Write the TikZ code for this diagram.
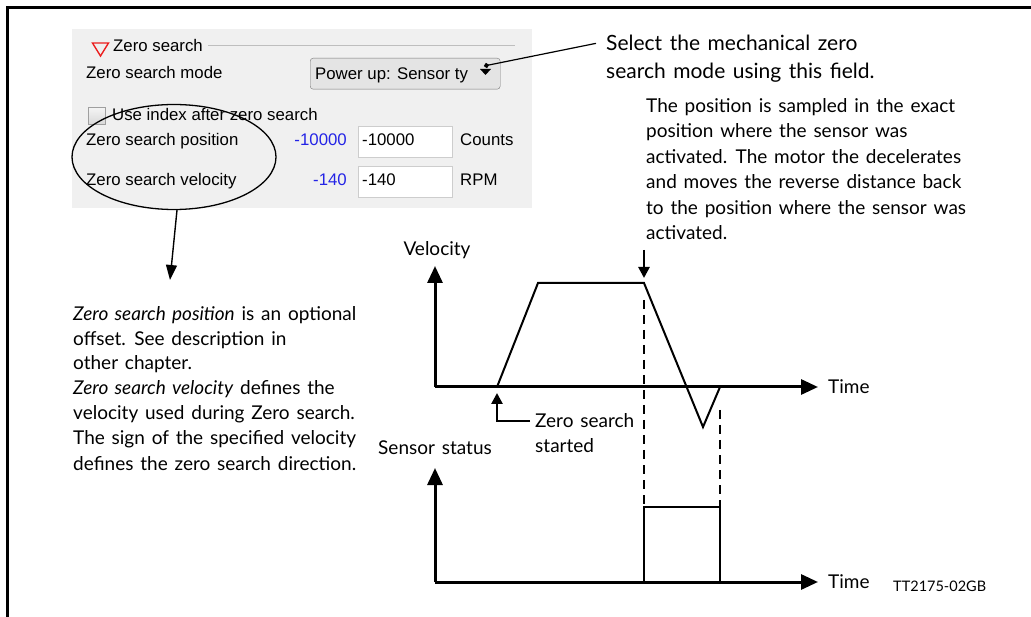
\documentclass[tikz,border=0pt]{standalone}
\usepackage{fontspec}
\setmainfont{Lato}[WordSpace=1.4]
\newfontfamily\uifont{Liberation Sans}
\usetikzlibrary{arrows.meta,shapes.geometric}
\definecolor{panel}{RGB}{240,240,240}
\definecolor{uiblue}{RGB}{35,35,230}
\definecolor{boxline}{RGB}{205,205,205}
\definecolor{grpline}{RGB}{190,190,190}
\definecolor{ddfill}{RGB}{228,228,228}
\definecolor{ddline}{RGB}{120,120,120}
\definecolor{uired}{RGB}{235,30,30}
\begin{document}
\begin{tikzpicture}[x=1pt,y=-1pt,
  ui/.style={font=\uifont\fontsize{16.8}{19}\selectfont, inner sep=0pt, anchor=base west},
  body/.style={font=\fontsize{19}{25}\selectfont, inner sep=0pt, anchor=base west},
  big/.style={font=\fontsize{21}{24}\selectfont, inner sep=0pt, anchor=base west},
  lbl/.style={font=\fontsize{19}{22}\selectfont, inner sep=0pt},
  axisline/.style={line width=3pt, -{Triangle[length=17pt,width=15pt]}},
  curve/.style={line width=2pt, line join=miter},
  sensline/.style={line width=2pt, dash pattern=on 9pt off 6pt},
  thinarrow/.style={line width=1.4pt, -{Triangle[length=15pt,width=11pt]}},
  markarrow/.style={line width=2.6pt, -{Triangle[length=11pt,width=11pt]}},
  field/.style={draw=boxline, fill=white, minimum width=94pt, minimum height=31pt, anchor=north west, inner sep=0pt}
]
\path[use as bounding box] (0,0) rectangle (1031,617);
% frame
\draw[line width=3pt, line join=miter] (1031,7.5) -- (7.5,7.5) -- (7.5,617);

% GUI panel
\fill[panel] (72,29) rectangle (532,208);
\draw[uired, line width=1.4pt, line join=miter] (92.5,43) -- (108.5,43) -- (100.5,56) -- cycle;
\node[ui] (grp) at (113,52) {Zero search};
\draw[grpline, line width=1pt] (208,46) -- (515,46);
\node[ui] (mode) at (86,79) {Zero search mode};
\node[draw=ddline, fill=ddfill, rounded corners=3pt, minimum width=190pt, minimum height=31pt, anchor=north west, inner sep=0pt] (dd) at (310,58) {};
\node[ui] (ddtext) at (315,80) {Power up: Sensor ty};
\fill (480,69) -- (491,69) -- (485.5,75) -- cycle;
\node[draw=gray!75, top color=gray!8, bottom color=gray!30, minimum size=17pt, anchor=north west, inner sep=0pt] (cb) at (88,107) {};
\node[ui] (cbtext) at (112,121) {Use index after zero search};
\node[ui] (pos) at (86,146) {Zero search position};
\node[ui, anchor=base east, text=uiblue] (posval) at (347,146) {-10000};
\node[field] (posbox) at (358,126) {};
\node[ui] (posin) at (362,146) {-10000};
\node[ui] (posunit) at (460,146) {Counts};
\node[ui] (vel) at (86,186) {Zero search velocity};
\node[ui, anchor=base east, text=uiblue] (velval) at (347,186) {-140};
\node[field] (velbox) at (358,166) {};
\node[ui] (velin) at (362,186) {-140};
\node[ui] (velunit) at (460,186) {RPM};

% ellipse and its arrow
\node[draw, ellipse, line width=1.3pt, minimum width=204pt, minimum height=105pt, inner sep=0pt] (ell) at (174,157) {};
\coordinate (ellend) at (170,280);
\draw[thinarrow] ([xshift=3pt]ell.south) -- (ellend);

% left explanation
\node[body] (l1) at (73,321) {\textit{Zero search position} is an optional};
\node[body] (l2) at (73,346) {offset. See description in};
\node[body] (l3) at (73,370) {other chapter.};
\node[body] (l4) at (73,395) {\textit{Zero search velocity} defines the};
\node[body] (l5) at (73,420) {velocity used during Zero search.};
\node[body] (l6) at (73,445) {The sign of the specified velocity};
\node[body] (l7) at (73,470) {defines the zero search direction.};

% select callout
\node[big] (sel1) at (606,51) {Select the mechanical zero};
\node[big] (sel2) at (606,79) {search mode using this field.};
\coordinate (ddpt) at (484,66);
\draw[line width=1.2pt, -{Circle[length=5pt]}] ([xshift=-10pt]sel1.west) -- (ddpt);

% right explanation
\node[body] (r1) at (646,113) {The position is sampled in the exact};
\node[body] (r2) at (646,138) {position where the sensor was};
\node[body] (r3) at (646,164) {activated. The motor the decelerates};
\node[body] (r4) at (646,189) {and moves the reverse distance back};
\node[body] (r5) at (646,215) {to the position where the sensor was};
\node[body] (r6) at (646,240) {activated.};

% velocity graph
\coordinate (V0) at (435,387);
\coordinate (Vy) at (435,266);
\coordinate (Vx) at (818,387);
\draw[axisline] (V0) -- (Vy);
\draw[axisline] (V0) -- (Vx);
\node[lbl] (vlabel) at (437,250) {Velocity};
\node[lbl, anchor=west] (t1) at (828,387) {Time};
\coordinate (A) at (497,387);
\coordinate (B) at (538,283);
\coordinate (C) at (644,283);
\coordinate (D) at (703,427);
\coordinate (E) at (720,387);
\draw[curve] (A) -- (B) -- (C) -- (D) -- (E);
\coordinate (actstart) at (644,250);
\draw[markarrow, shorten >=5pt] (actstart) -- (C);
\node[lbl, anchor=base west] (zs1) at (535,428) {Zero search};
\node[lbl, anchor=base west] (zs2) at (535,453) {started};
\draw[markarrow] ([xshift=-5pt]zs1.west) -| ([yshift=-6pt]A);

% sensor graph
\coordinate (S0) at (435,582);
\coordinate (Sy) at (435,468);
\coordinate (Sx) at (818,582);
\draw[axisline] (S0) -- (Sy);
\draw[axisline] (S0) -- (Sx);
\node[lbl] (slabel) at (435,448) {Sensor status};
\node[lbl, anchor=west] (t2) at (828,582) {Time};
\coordinate (P1) at (644,582);
\coordinate (P2) at (644,507);
\coordinate (P3) at (720,507);
\coordinate (P4) at (720,582);
\draw[curve] (P1) -- (P2) -- (P3) -- (P4);
\coordinate (d1top) at (644,300);
\coordinate (d2top) at (720,410);
\draw[sensline] (d1top) -- (P2);
\draw[sensline] (d2top) -- (P3);
\node[font=\fontsize{14.5}{16}\selectfont, anchor=west, inner sep=0pt] (tt) at (893,586) {TT2175-02GB};
\end{tikzpicture}
\end{document}
